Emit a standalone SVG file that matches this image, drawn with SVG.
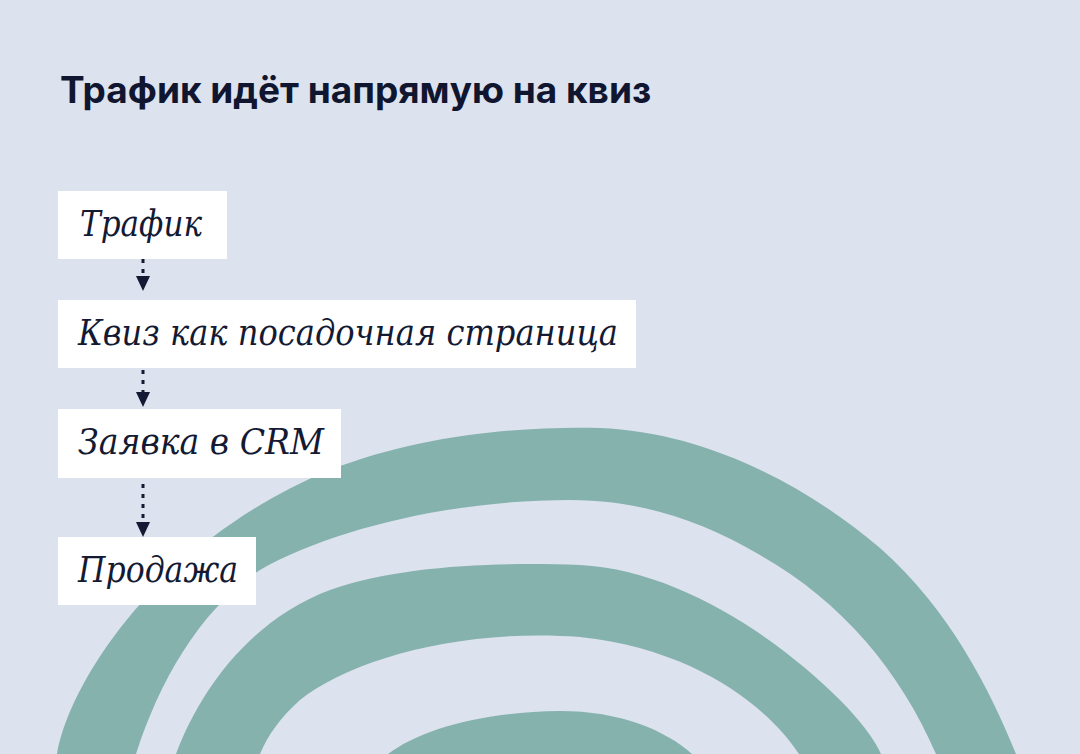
<svg xmlns="http://www.w3.org/2000/svg" width="1080" height="754" viewBox="0 0 1080 754">
<defs>
<style>
.bg{fill:#dce2ee}
.band{fill:#86b2ae}
.box{fill:#ffffff}
.lbl{font-family:"DejaVu Serif","Liberation Serif",serif;font-style:italic;font-size:35px;fill:#141a33}
.title{font-family:Inter,"Noto Sans",sans-serif;font-weight:700;font-size:37px;fill:#111630}
.conn{stroke:#141a33;stroke-width:3;stroke-dasharray:4 6;fill:none}
</style>
<marker id="arr" viewBox="0 0 15 14" refX="0" refY="7" markerWidth="15" markerHeight="14" markerUnits="userSpaceOnUse" orient="auto">
<path d="M0,0 L15,7 L0,14 Z" fill="#141a33"/>
</marker>
</defs>
<rect class="bg" x="0" y="0" width="1080" height="754"/>
<g id="arcs">
<path class="band" d="M57,754 C70,680 160,540 330,470 C420,435 520,426 600,428 C700,432 800,480 880,548 C950,610 990,690 1016,754 L936,754 C900,670 840,600 760,555 C700,520 640,500 570,500 C450,500 330,530 260,570 C200,610 160,680 136,754 Z"/>
<path class="band" d="M176,754 C200,690 250,620 330,590 C400,565 500,562 580,565 C680,570 780,640 840,700 C860,720 875,740 881,754 L799,754 C770,710 700,650 580,637 C460,628 350,660 300,700 C280,718 268,735 260,754 Z"/>
<path class="band" d="M388,754 C420,730 480,712 560,711 C620,711 665,730 692,754 Z"/>
</g>
<text class="title" x="60" y="103">Трафик идёт напрямую на квиз</text>
<g id="connectors">
<path class="conn" d="M143,259 L143,276" marker-end="url(#arr)"/>
<path class="conn" d="M143,370 L143,392" marker-end="url(#arr)"/>
<path class="conn" d="M143,484 L143,522" marker-end="url(#arr)"/>
</g>
<g id="node-traffic">
<rect class="box" x="58" y="191" width="169" height="68"/>
<text class="lbl" x="80" y="236" textLength="122" lengthAdjust="spacingAndGlyphs">Трафик</text>
</g>
<g id="node-quiz">
<rect class="box" x="58" y="300" width="578" height="68"/>
<text class="lbl" x="78" y="345" textLength="540" lengthAdjust="spacingAndGlyphs">Квиз как посадочная страница</text>
</g>
<g id="node-crm">
<rect class="box" x="58" y="409" width="283" height="69"/>
<text class="lbl" x="78" y="454" textLength="246" lengthAdjust="spacingAndGlyphs">Заявка в CRM</text>
</g>
<g id="node-sale">
<rect class="box" x="58" y="537" width="198" height="68"/>
<text class="lbl" x="78" y="582" textLength="160" lengthAdjust="spacingAndGlyphs">Продажа</text>
</g>
</svg>
